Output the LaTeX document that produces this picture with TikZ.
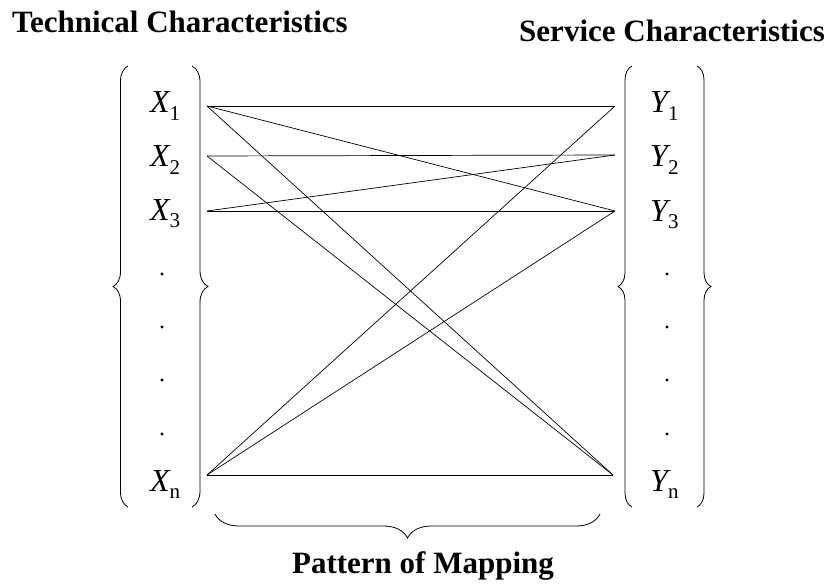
\documentclass[tikz,border=0pt]{standalone}
\usepackage{fontspec}
\setmainfont{Liberation Serif}
\usetikzlibrary{decorations.pathreplacing}
\newcommand{\varlbl}[2]{{\fontsize{32}{32}\selectfont\itshape #1}\raisebox{-7.5pt}{\fontsize{21}{21}\selectfont #2}}
\tikzset{
	heading/.style={font=\fontsize{31}{31}\selectfont\bfseries, inner sep=0pt},
	varname/.style={inner sep=0pt, anchor=base west},
	dotmark/.style={circle, fill=black, inner sep=0pt, minimum size=3.4pt},
	bigbrace/.style={decorate, decoration={brace, amplitude=#1}, line width=0.8pt},
	link/.style={line width=0.7pt}
}

\begin{document}
\begin{tikzpicture}[x=1pt,y=-1pt]
	\useasboundingbox (0,0) rectangle (829,588);
	\node[heading, anchor=base west] (tech) at (12,33) {Technical Characteristics};
	\node[heading, anchor=base east] (serv) at (825,42) {Service Characteristics};
	\node[heading, anchor=base] (patt) at (423,573) {Pattern of Mapping};
	% variables
	\node[varname] (lx1) at (150,113) {\varlbl{X}{1}};
	\node[varname] (lx2) at (150,167) {\varlbl{X}{2}};
	\node[varname] (lx3) at (150,220) {\varlbl{X}{3}};
	\node[varname] (lxn) at (150,491) {\varlbl{X}{n}};
	\node[varname] (ly1) at (650,113) {\varlbl{Y}{1}};
	\node[varname] (ly2) at (650,167) {\varlbl{Y}{2}};
	\node[varname] (ly3) at (650,221) {\varlbl{Y}{3}};
	\node[varname] (lyn) at (650,491) {\varlbl{Y}{n}};
	\foreach \y [count=\i] in {274,327,380,434} {
		\node[dotmark] (ld\i) at (162,\y) {};
		\node[dotmark] (rd\i) at (667,\y) {};
	}
	% braces
	\draw[bigbrace=15pt] (128,507) -- (128,66);
	\draw[bigbrace=16pt] (192,66) -- (192,507);
	\draw[bigbrace=14pt] (632,507) -- (632,66);
	\draw[bigbrace=14pt] (697,66) -- (697,507);
	\draw[bigbrace=24pt] (600,514) -- (215,514);
	% mapping
	\coordinate (x1) at (207,106);
	\coordinate (x2) at (207,156);
	\coordinate (x3) at (207,211);
	\coordinate (xn) at (207,475);
	\coordinate (y1) at (615,106);
	\coordinate (y2) at (615,155);
	\coordinate (y3) at (615,211);
	\coordinate (yn) at (613,475);
	\foreach \a/\b in {x1/y1, x1/y3, x1/yn, x2/y2, x2/yn, x3/y2, x3/y3, xn/y1, xn/y3, xn/yn}
		\draw[link] (\a) -- (\b);
\end{tikzpicture}
\end{document}
